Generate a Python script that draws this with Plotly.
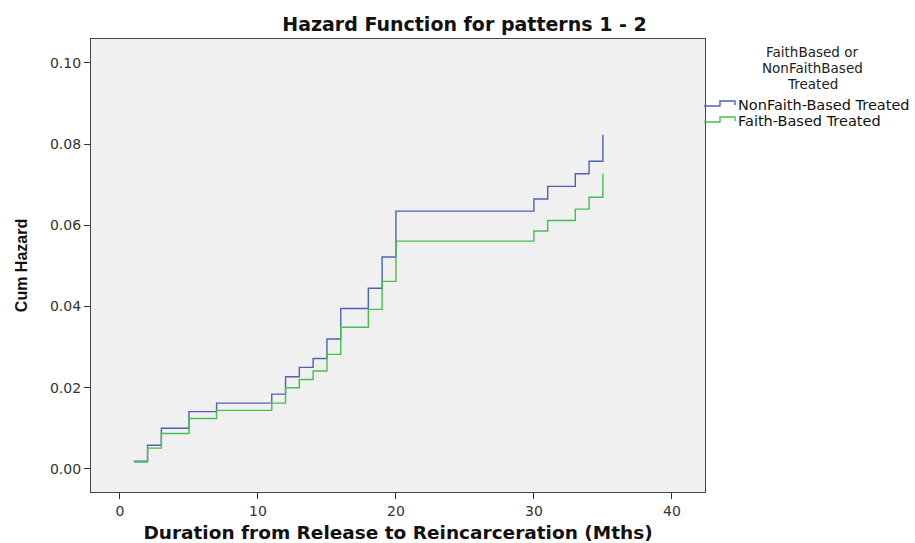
import plotly.graph_objects as go

# Data
times = [1, 2, 3, 5, 7, 11, 12, 13, 14, 15, 16, 18, 19, 20, 30, 31, 33, 34, 35]
nonfaith = [0.0019, 0.0058, 0.0100, 0.0141, 0.0162, 0.0184, 0.0227, 0.0250, 0.0272,
            0.0320, 0.0395, 0.0445, 0.0522, 0.0635, 0.0665, 0.0696, 0.0727, 0.0758, 0.0823]
faith = [0.0017, 0.0051, 0.0087, 0.0124, 0.0144, 0.0162, 0.0200, 0.0220, 0.0241,
         0.0282, 0.0349, 0.0393, 0.0462, 0.0561, 0.0586, 0.0612, 0.0640, 0.0669, 0.0727]
series_names = ["NonFaith-Based Treated", "Faith-Based Treated"]
legend_title_lines = ["FaithBased or", "NonFaithBased", "Treated"]
colors = ["#4C62B8", "#45C04F"]
x_ticks = [0, 10, 20, 30, 40]
y_ticks = [0.00, 0.02, 0.04, 0.06, 0.08, 0.10]

W, H = 915, 543
L, R, T, B = 91, 705, 39, 492

def px(x):
    return (x - L) / (R - L)

def py(y):
    return (B - y) / (B - T)

fig = go.Figure()
for name, vals, c in zip(series_names, [nonfaith, faith], colors):
    fig.add_trace(go.Scatter(x=times, y=vals, mode="lines", line=dict(shape="hv", color=c, width=1.4),
                             name=name, showlegend=False))

font_main = "DejaVu Sans, Arial, sans-serif"

fig.update_layout(
    width=W, height=H,
    margin=dict(l=L, r=W - R, t=T, b=H - B, autoexpand=False),
    paper_bgcolor="white", plot_bgcolor="#F0F0F0",
    font=dict(family=font_main, size=14, color="#222"),
    title=dict(text="<b>Hazard Function for patterns 1 - 2</b>", x=(272 + 657) / 2 / W, xanchor="center",
               y=1 - 24 / H, yanchor="middle", font=dict(size=19, color="#111", family=font_main)),
)
fig.update_xaxes(range=[-2.1, 42.4], tickvals=x_ticks, ticktext=[str(v) for v in x_ticks],
                 showgrid=False, zeroline=False, showline=True, linecolor="#444", linewidth=1.2, mirror=True,
                 ticks="outside", ticklen=6, tickcolor="#333", tickfont=dict(size=14, color="#333"),
                 automargin=False,
                 title=dict(text="<b>Duration from Release to Reincarceration (Mths)</b>",
                            font=dict(size=18.5, color="#111"), standoff=10))
fig.update_yaxes(range=[-0.0057, 0.1059], tickvals=y_ticks, ticktext=["%.2f" % v for v in y_ticks],
                 showgrid=False, zeroline=False, showline=True, linecolor="#444", linewidth=1.2, mirror=True,
                 ticks="outside", ticklen=6, tickcolor="#333", tickfont=dict(size=14, color="#333"),
                 automargin=False,
                 title=dict(text="<b>Cum Hazard</b>",
                            font=dict(size=16, color="#111", family="Liberation Sans Narrow, Arial Narrow, Liberation Sans, sans-serif"),
                            standoff=18))

# Custom legend
for line, yy in zip(legend_title_lines, [52, 68, 84]):
    fig.add_annotation(xref="paper", yref="paper", x=px(812), y=py(yy), xanchor="center", yanchor="middle",
                       text=line, showarrow=False,
                       font=dict(size=13.5, color="#222", family=font_main))
legend_rows = [106, 122]
for name, c, yy in zip(series_names, colors, legend_rows):
    path = "M %f %f L %f %f L %f %f L %f %f L %f %f" % (
        px(704), py(yy), px(720), py(yy), px(720), py(yy - 5), px(735), py(yy - 5), px(735), py(yy - 1))
    fig.add_shape(type="path", xref="paper", yref="paper", path=path, line=dict(color=c, width=1.4))
    fig.add_annotation(xref="paper", yref="paper", x=px(736), y=py(yy - 1), xanchor="left", yanchor="middle",
                       text=name, showarrow=False, font=dict(size=14.5, color="#111", family=font_main))

fig.write_html("out.html")
